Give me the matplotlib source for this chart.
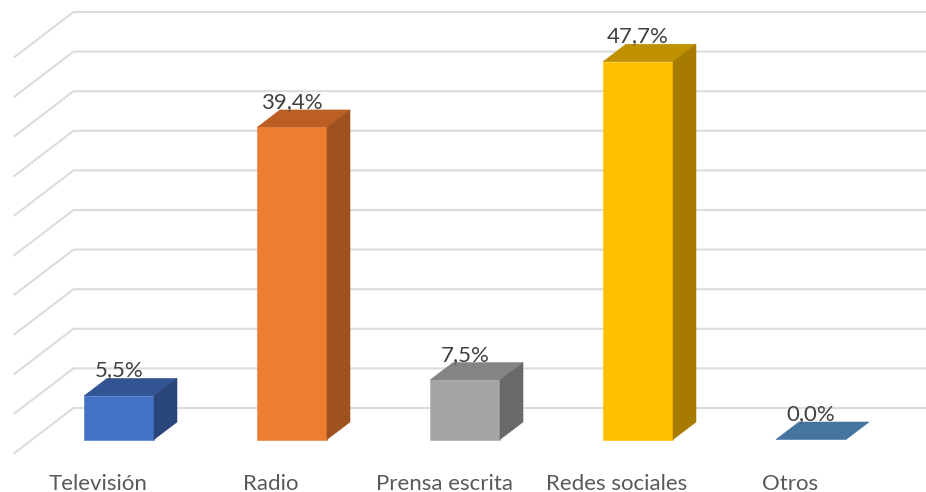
import matplotlib
matplotlib.use("Agg")
import matplotlib.pyplot as plt
from matplotlib.lines import Line2D
from matplotlib.patches import Polygon
from matplotlib.transforms import IdentityTransform


CATEGORIES = ["Televisión", "Radio", "Prensa escrita", "Redes sociales", "Otros"]
VALUES = [5.5, 39.4, 7.5, 47.7, 0.0]
VALUE_LABELS = ["5,5%", "39,4%", "7,5%", "47,7%", "0,0%"]
GRID_VALUES = [0, 5, 10, 15, 20, 25, 30, 35, 40, 45, 50]

FRONT_COLORS = ["#4472C4", "#ED7D31", "#A5A5A5", "#FFC000", "#43759F"]
TOP_COLORS = ["#325493", "#BC5F24", "#848484", "#C09000", "#43759F"]
SIDE_COLORS = ["#2A4579", "#9E5220", "#696969", "#A67B00", "#43759F"]

W, H = 926, 492
BAR_WIDTH = 70 / 173
# depth offsets in pixels, measured from the plane of the bar fronts
BAR_DEPTH = (23, 17.5)
WALL_BACK = (41, 31.5)
FLOOR_FRONT = (-18, -13.5)

plt.rcParams["font.family"] = ["Lato", "DejaVu Sans"]

fig = plt.figure(figsize=(W / 100, H / 100), dpi=100)
ax = fig.add_axes([32.5 / W, (H - 439.5) / H, 865 / W, 396 / H])
ax.set_xlim(-0.5, 4.5)
ax.set_ylim(0, 50)
ax.axis("off")


def to_px(x, v, offset=(0, 0)):
    px = ax.transData.transform((x, v))
    return (px[0] + offset[0], px[1] + offset[1])


def add_face(points, color):
    fig.add_artist(Polygon(points, closed=True, facecolor=color, edgecolor=color,
                           linewidth=0.4, transform=IdentityTransform(), zorder=2))


for v in GRID_VALUES:
    pts = [to_px(-0.5, v, FLOOR_FRONT), to_px(-0.5, v, WALL_BACK), to_px(4.5, v, WALL_BACK)]
    fig.add_artist(Line2D([p[0] for p in pts], [p[1] for p in pts], color="#DCDCDC",
                          linewidth=1.5, transform=IdentityTransform(), zorder=1))

for i, v in enumerate(VALUES):
    x0 = i - BAR_WIDTH / 2
    x1 = i + BAR_WIDTH / 2
    add_face([to_px(x0, v), to_px(x1, v), to_px(x1, v, BAR_DEPTH), to_px(x0, v, BAR_DEPTH)], TOP_COLORS[i])
    if v > 0:
        add_face([to_px(x0, 0), to_px(x1, 0), to_px(x1, v), to_px(x0, v)], FRONT_COLORS[i])
        add_face([to_px(x1, 0), to_px(x1, 0, BAR_DEPTH), to_px(x1, v, BAR_DEPTH), to_px(x1, v)], SIDE_COLORS[i])

for i, v in enumerate(VALUES):
    lx, ly = to_px(i, v, (0, 25.5))
    fig.text(lx, ly, VALUE_LABELS[i], transform=IdentityTransform(), fontsize=16,
             color="#404040", ha="center", va="center", zorder=5)
    tx, ty = to_px(i, 0, (-21, -44))
    fig.text(tx, ty, CATEGORIES[i], transform=IdentityTransform(), fontsize=16,
             color="#595959", ha="center", va="center", zorder=5)

fig.savefig("out.png", dpi=100)
plt.close(fig)
